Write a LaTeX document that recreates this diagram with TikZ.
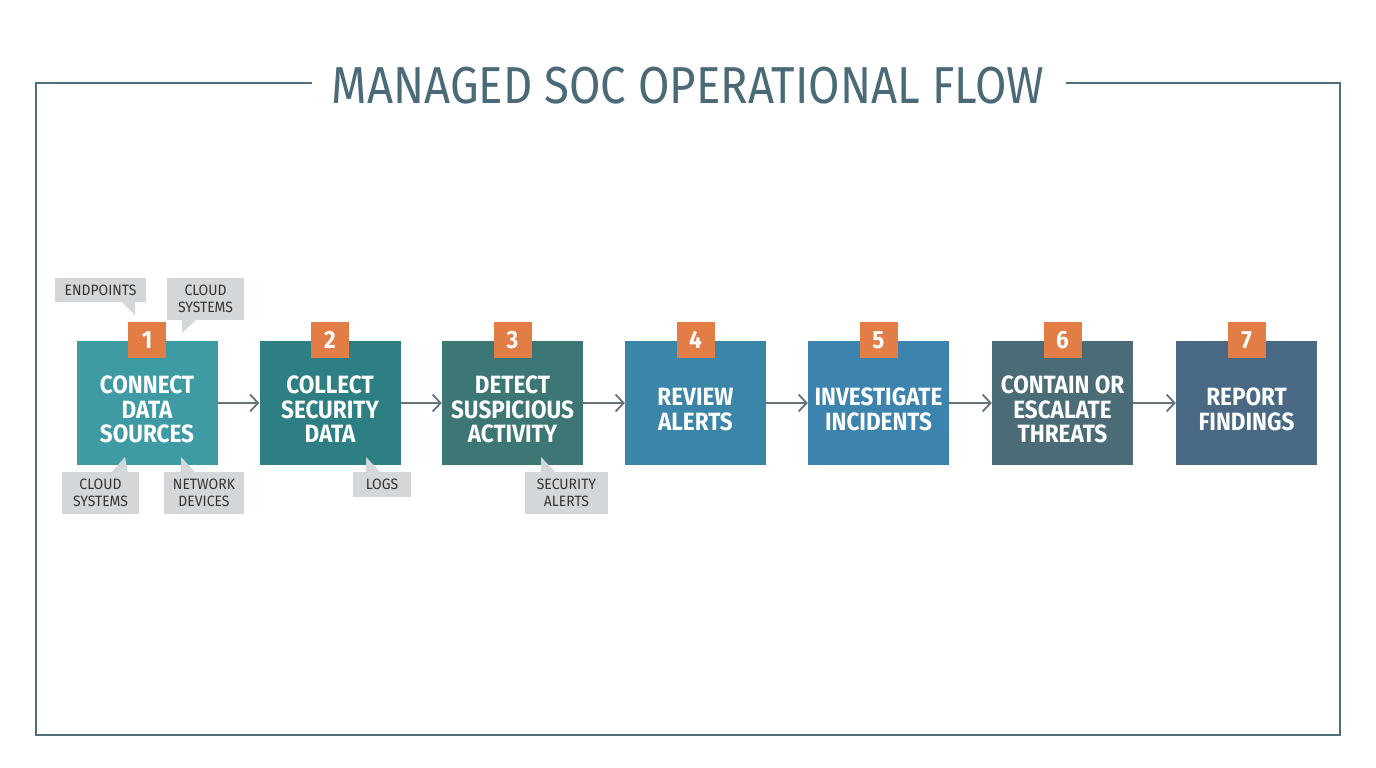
\documentclass[tikz,border=0pt]{standalone}
\usepackage{fontspec}
\setmainfont{Fira Sans}
\newfontfamily\condfont[FakeStretch=0.9]{Fira Sans}
\newfontfamily\callfont[FakeStretch=0.93]{Fira Sans}
\newfontfamily\titlefont[FakeStretch=0.875]{Fira Sans}
\usetikzlibrary{arrows.meta}
\definecolor{framecol}{HTML}{4E6E7C}
\definecolor{titlecol}{HTML}{4A6A78}
\definecolor{cA}{HTML}{3E9BA4}
\definecolor{cB}{HTML}{2E7F83}
\definecolor{cC}{HTML}{3C7675}
\definecolor{cD}{HTML}{3B85A8}
\definecolor{cE}{HTML}{3C83AD}
\definecolor{cF}{HTML}{4B6C77}
\definecolor{cG}{HTML}{486884}
\definecolor{badgecol}{HTML}{E27D45}
\definecolor{callfill}{HTML}{D4D7D9}
\definecolor{calltext}{HTML}{333333}
\definecolor{arrowcol}{HTML}{66747A}
\tikzset{
  stepbox/.style={minimum width=141pt, minimum height=124pt, inner sep=0pt},
  steplabel/.style={inner sep=0pt, align=center, yshift=-6.5pt,
    text=white, font=\condfont\bfseries\fontsize{25}{24.5}\selectfont},
  badge/.style={fill=badgecol, minimum width=38pt, minimum height=36pt, inner sep=0pt,
    text=white, font=\condfont\bfseries\fontsize{25}{25}\selectfont},
  callout/.style={fill=callfill, inner sep=0pt, align=center, text=calltext,
    font=\callfont\fontsize{15}{17}\selectfont},
  tail/.style={fill=callfill},
  conn/.style={draw=arrowcol, line width=1.8pt, -{Straight Barb[length=8pt,width=17pt,line width=1.8pt]}}
}
\begin{document}
\begin{tikzpicture}[x=1pt,y=-1pt]
\useasboundingbox (0,0) rectangle (1376,768);
\fill[white] (0,0) rectangle (1376,768);
% frame
\draw[framecol, line width=1.5pt] (312,83) -- (36,83) -- (36,735) -- (1340,735) -- (1340,83) -- (1066,83);
\node[text=titlecol, font=\titlefont\fontsize{52}{52}\selectfont, inner sep=0pt] (title) at (688,86) {MANAGED SOC OPERATIONAL FLOW};
% steps
\node[stepbox, fill=cA, label={[steplabel]center:{CONNECT\\DATA\\SOURCES}}] (s1) at (147,403) {};
\node[stepbox, fill=cB, label={[steplabel]center:{COLLECT\\SECURITY\\DATA}}] (s2) at (330,403) {};
\node[stepbox, fill=cC, label={[steplabel]center:{DETECT\\SUSPICIOUS\\ACTIVITY}}] (s3) at (512.5,403) {};
\node[stepbox, fill=cD, label={[steplabel]center:{REVIEW\\ALERTS}}] (s4) at (695.5,403) {};
\node[stepbox, fill=cE, label={[steplabel]center:{INVESTIGATE\\INCIDENTS}}] (s5) at (878.5,403) {};
\node[stepbox, fill=cF, label={[steplabel]center:{CONTAIN OR\\ESCALATE\\THREATS}}] (s6) at (1062.5,403) {};
\node[stepbox, fill=cG, label={[steplabel]center:{REPORT\\FINDINGS}}] (s7) at (1246.5,403) {};
% badges
\node[badge] (b1) at (147,340) {1};
\node[badge] (b2) at (330,340) {2};
\node[badge] (b3) at (512.5,340) {3};
\node[badge] (b4) at (695.5,340) {4};
\node[badge] (b5) at (878.5,340) {5};
\node[badge] (b6) at (1062.5,340) {6};
\node[badge] (b7) at (1246.5,340) {7};
% arrows
\draw[conn] (s1) -- (s2);
\draw[conn] (s2) -- (s3);
\draw[conn] (s3) -- (s4);
\draw[conn] (s4) -- (s5);
\draw[conn] (s5) -- (s6);
\draw[conn] (s6) -- (s7);
% callout tails
\fill[tail] (121,301) -- (135,315) -- (135,301) -- cycle;
\fill[tail] (182,319) -- (182,333) -- (197,319) -- cycle;
\fill[tail] (111,473) -- (125,457) -- (128,473) -- cycle;
\fill[tail] (181,473) -- (181,457) -- (196,473) -- cycle;
\fill[tail] (366,473) -- (366,457) -- (381,473) -- cycle;
\fill[tail] (541,473) -- (541,457) -- (556,473) -- cycle;
% callouts
\node[callout, minimum width=91pt, minimum height=24pt] (ep) at (100.5,290) {ENDPOINTS};
\node[callout, minimum width=77pt, minimum height=42pt] (ct) at (205.5,299) {CLOUD\\SYSTEMS};
\node[callout, minimum width=77pt, minimum height=42pt] (cb) at (100.5,493) {CLOUD\\SYSTEMS};
\node[callout, minimum width=80pt, minimum height=42pt] (nd) at (204,493) {NETWORK\\DEVICES};
\node[callout, minimum width=58pt, minimum height=25pt] (lg) at (382,484.5) {LOGS};
\node[callout, minimum width=83pt, minimum height=42pt] (sa) at (566.5,493) {SECURITY\\ALERTS};
\end{tikzpicture}
\end{document}
